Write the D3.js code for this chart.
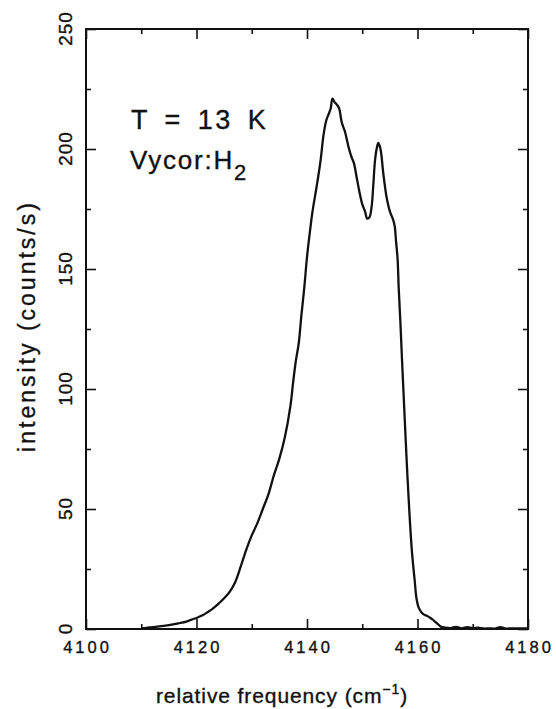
<!DOCTYPE html>
<html>
<head>
<meta charset="utf-8">
<script src="https://cdnjs.cloudflare.com/ajax/libs/d3/7.8.5/d3.min.js"></script>
<style>
  body { margin: 0; background: #fff; }
  svg text { font-family: "Liberation Sans", Arial, sans-serif; fill: #111; stroke: #111; stroke-width: 0.35px; }
</style>
</head>
<body>
<div id="chart"></div>
<script>
// spectrum
const freq = [4110, 4111, 4112, 4113, 4114, 4115, 4116, 4117, 4118, 4119,
  4120, 4121, 4122, 4123, 4124, 4125, 4126, 4127, 4128, 4129,
  4130, 4131, 4132, 4133, 4134, 4135, 4136, 4137, 4137.5, 4138,
  4138.5, 4139, 4139.5, 4140, 4140.5, 4141, 4141.5, 4142, 4142.5, 4143,
  4143.5, 4144, 4144.3, 4144.6, 4145, 4145.4, 4145.8, 4146.3, 4146.9, 4147.5,
  4148, 4148.5, 4149, 4149.5, 4150, 4150.5, 4150.9, 4151.3, 4151.7, 4152,
  4152.3, 4152.6, 4152.9, 4153.3, 4153.8, 4154.4, 4155, 4155.6, 4155.9, 4156.1,
  4156.4, 4156.6, 4156.9, 4157.2, 4157.6, 4158, 4158.5, 4159, 4159.5, 4159.8,
  4160.2, 4160.7, 4161.2, 4161.7, 4162.2, 4162.7, 4163.2, 4163.7, 4164.2, 4165,
  4166, 4167, 4168, 4169, 4170, 4171, 4172, 4173, 4174, 4175,
  4176, 4177, 4178, 4179, 4180];
const intensity = [0.3, 0.5, 0.8, 1.0, 1.3, 1.6, 2.0, 2.5, 3.0, 3.8,
  4.6, 5.6, 7.0, 8.6, 10.6, 12.8, 15.5, 19.5, 26, 33,
  39, 44, 50, 56, 64, 71, 80, 93, 103, 112,
  119, 131, 142, 155, 165, 174, 181, 188, 196, 206,
  212, 215, 217, 221, 219.5, 218.5, 217, 211, 207, 201,
  197, 194, 188, 182, 177, 174, 171, 171.5, 176, 185,
  195, 200, 202.5, 200, 190, 180, 174, 170.5, 167.5, 162,
  154, 142, 128, 112, 92, 72, 50, 32, 20, 13,
  9, 7, 6, 5.5, 4.8, 4, 3, 2, 1, 0.6,
  0.4, 0.9, 0.3, 0.8, 0.4, 0.6, 0.2, 0.3, 0.2, 0.8,
  0.2, 0.3, 0.2, 0.3, 0.2];

const xMajor = [4100, 4120, 4140, 4160, 4180];
const xMinor = [4110, 4130, 4150, 4170];
const yMajor = [0, 50, 100, 150, 200, 250];
const yMinor = [25, 75, 125, 175, 225];

const width = 556, height = 709;
const margin = {left: 86, top: 29, right: 28, bottom: 80};

const svg = d3.select("#chart").append("svg")
  .attr("width", width)
  .attr("height", height);

const x = d3.scaleLinear().domain([4100, 4180]).range([margin.left, width - margin.right]);
const y = d3.scaleLinear().domain([0, 250]).range([height - margin.bottom, margin.top]);

// ticks on all four sides, pointing inwards
function ticks(axisFn, scale, vals, size, pos) {
  const g = svg.append("g")
    .attr("transform", pos)
    .call(axisFn(scale).tickValues(vals).tickSize(-size).tickFormat(""));
  g.select(".domain").remove();
  g.selectAll("line").attr("stroke", "#111").attr("stroke-width", 1.6);
  return g;
}
const bottomY = y(0), topY = y(250), leftX = x(4100), rightX = x(4180);
ticks(d3.axisBottom, x, xMajor, 10, `translate(0,${bottomY})`);
ticks(d3.axisBottom, x, xMinor, 5, `translate(0,${bottomY})`);
ticks(d3.axisTop, x, xMajor, 10, `translate(0,${topY})`);
ticks(d3.axisTop, x, xMinor, 5, `translate(0,${topY})`);
ticks(d3.axisLeft, y, yMajor, 10, `translate(${leftX},0)`);
ticks(d3.axisLeft, y, yMinor, 5, `translate(${leftX},0)`);
ticks(d3.axisRight, y, yMajor, 10, `translate(${rightX},0)`);
ticks(d3.axisRight, y, yMinor, 5, `translate(${rightX},0)`);

// frame
svg.append("rect")
  .attr("x", leftX).attr("y", topY)
  .attr("width", rightX - leftX).attr("height", bottomY - topY)
  .attr("fill", "none").attr("stroke", "#111").attr("stroke-width", 2);

// tick labels
svg.selectAll(".xlab")
  .data(xMajor)
  .join("text")
  .attr("class", "xlab")
  .attr("x", d => x(d) + 1.5)
  .attr("y", bottomY + 24)
  .attr("text-anchor", "middle")
  .style("font-size", "16.5px")
  .style("letter-spacing", "3px")
  .text(d => d);

svg.selectAll(".ylab")
  .data(yMajor)
  .join("text")
  .attr("class", "ylab")
  .attr("transform", d => `translate(${leftX - 14},${y(d) - 0.5}) rotate(-90)`)
  .attr("text-anchor", "middle")
  .style("font-size", "19px")
  .style("letter-spacing", "1px")
  .text(d => d);

// axis titles
const xt = svg.append("text")
  .attr("x", 282)
  .attr("y", 703)
  .attr("text-anchor", "middle")
  .style("font-size", "21px")
  .style("letter-spacing", "0.9px");
xt.append("tspan").text("relative frequency (cm");
xt.append("tspan").attr("dy", -9).style("font-size", "14px").text("\u22121");
xt.append("tspan").attr("dy", 9).text(")");

svg.append("text")
  .attr("transform", "translate(35,326) rotate(-90)")
  .attr("text-anchor", "middle")
  .style("font-size", "23px")
  .style("letter-spacing", "3px")
  .text("intensity (counts/s)");

// annotations
svg.append("text")
  .attr("x", 131).attr("y", 129)
  .style("font-size", "27px")
  .style("letter-spacing", "2.5px")
  .style("word-spacing", "5px")
  .text("T = 13 K");

const ann = svg.append("text")
  .attr("x", 130).attr("y", 169)
  .style("font-size", "26px")
  .style("letter-spacing", "1.8px");
ann.append("tspan").text("Vycor:H");
ann.append("tspan").attr("dy", 11).style("font-size", "22px").text("2");

// spectrum
const pts = freq.map((f, i) => [f, intensity[i]]);
svg.append("path")
  .datum(pts)
  .attr("fill", "none")
  .attr("stroke", "#111")
  .attr("stroke-width", 2.3)
  .attr("stroke-linejoin", "round")
  .attr("d", d3.line().x(d => x(d[0])).y(d => y(d[1])).curve(d3.curveCatmullRom));
</script>
</body>
</html>
